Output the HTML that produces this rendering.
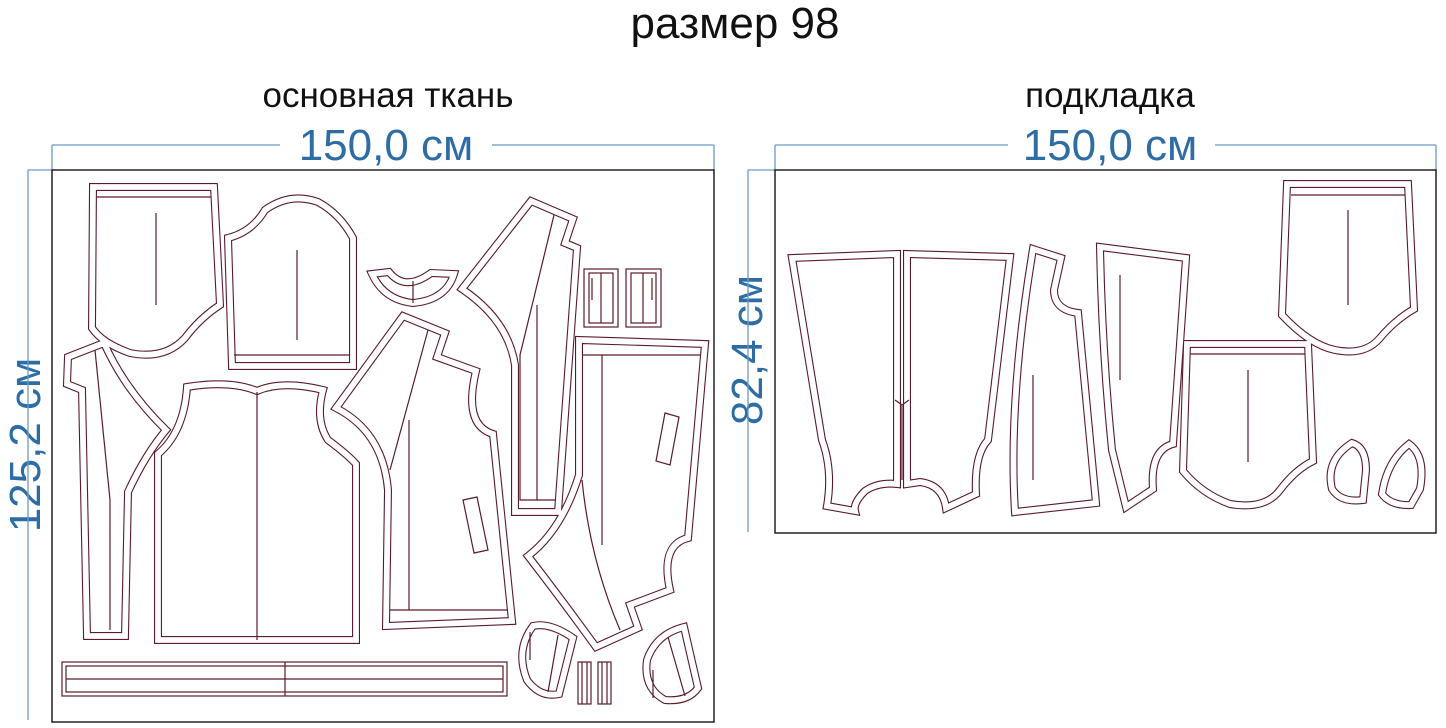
<!DOCTYPE html>
<html><head><meta charset="utf-8"><style>
html,body{margin:0;padding:0;background:#fff;}
svg{display:block;}
</style></head><body>
<svg width="1446" height="728" viewBox="0 0 1446 728" xmlns="http://www.w3.org/2000/svg" xmlns:xlink="http://www.w3.org/1999/xlink">
<defs>
<path id="p1" d="M93,187 L214,187 L220,305 Q200,318 185,338 Q165,360 130,353 Q102,343 92,328 Z"/>
<path id="p2" d="M228,238 Q252,232 265,210 Q290,192 318,202 Q340,214 353,238 L353,366 L232,366 Z"/>
<path id="p3" d="M372,274 L389,272 Q405,292 431,273 L454,274 Q446,300 413,303 Q384,300 372,274 Z"/>
<path id="p4" d="M68,357 L104,343 Q125,390 166,430 Q145,455 128,492 L125,636 L87,636 L82,390 L67,384 Z"/>
<path id="p5" d="M187,387 Q230,380 257,391 Q282,380 323,390 Q315,420 328,440 Q348,455 356,464 L356,640 L158,640 L158,454 Q184,432 187,387 Z"/>
<path id="p6" d="M336,408 L403,316 L445,333 L437,357 L476,371 Q463,425 493,434 L512,621 L386,626 L388,490 Q383,432 336,408 Z"/>
<path id="p7" d="M531,201 L573,219 L565,243 L577,248 L558,512 L515,512 L515,365 Q508,320 462,289 Z"/>
<path id="p9" d="M579,340 L705,344 L688,538 Q660,545 670,590 L630,605 L638,628 L596,647 Q562,600 528,556 Q562,530 579,475 Z"/>
<path id="p10" d="M533,626 Q550,622 573,638 L559,694 Q540,698 527,680 Q515,650 533,626 Z"/>
<path id="p11" d="M684,627 L698,688 Q688,702 665,700 Q643,688 647,660 Q656,634 684,627 Z"/>
<path id="r1" d="M792,258 L897,254 L897,484 Q878,482 865,491 Q853,503 855,511 L827,506 Q833,470 822,440 Z"/>
<path id="r2" d="M907,254 L1010,257 L988,440 Q974,455 976,494 L946,508 Q943,485 920,482 L907,484 Z"/>
<path id="r3" d="M1033,249 L1061,258 L1054,290 Q1054,310 1078,313 L1096,503 L1015,512 Q1008,400 1033,249 Z"/>
<path id="r4" d="M1100,247 L1186,258 L1173,444 Q1150,450 1153,489 L1126,507 L1112,450 Q1102,350 1100,247 Z"/>
<path id="r5" d="M1287,184 L1408,184 L1414,309 Q1395,320 1380,338 Q1365,356 1335,350 Q1310,345 1282,315 Z"/>
<path id="r6" d="M1187,344 L1308,344 L1313,461 Q1295,470 1280,490 Q1265,510 1230,504 Q1202,494 1183,471 Z"/>
<path id="r7" d="M1352,443 Q1366,447 1366,470 L1363,500 Q1341,503 1332,489 Q1325,460 1352,443 Z"/>
<path id="r8" d="M1409,444 Q1426,456 1420,489 L1411,505 Q1391,506 1382,494 Q1387,461 1409,444 Z"/>
</defs>

<g font-family="Liberation Sans, sans-serif">
<text x="735" y="38" font-size="44" text-anchor="middle" fill="#111">размер 98</text>
<text x="388" y="107" font-size="35" text-anchor="middle" fill="#111">основная ткань</text>
<text x="1110" y="107" font-size="35" text-anchor="middle" fill="#111">подкладка</text>
<text x="386" y="160" font-size="44" text-anchor="middle" fill="#2e6da4">150,0 см</text>
<text x="1110" y="160" font-size="44" text-anchor="middle" fill="#2e6da4">150,0 см</text>
<text transform="translate(40,445) rotate(-90)" font-size="44" text-anchor="middle" fill="#2e6da4">125,2 см</text>
<text transform="translate(762,350) rotate(-90)" font-size="44" text-anchor="middle" fill="#2e6da4">82,4 см</text>
</g>

<g stroke="#6a9ac8" stroke-width="1.3" fill="none">
<path d="M52,145 H280 M492,145 H714 M52,145 V170 M714,145 V170"/>
<path d="M28,170 H52 M28,170 V720"/>
<path d="M775,145 H1008 M1215,145 H1436 M775,145 V170 M1436,145 V170"/>
<path d="M748,170 H775 M748,170 V532"/>
</g>

<rect x="52" y="170" width="662" height="552" fill="#fff" stroke="#222" stroke-width="1.5"/>
<rect x="775" y="170" width="661" height="363" fill="#fff" stroke="#222" stroke-width="1.5"/>

<g fill="#fff" stroke="#5a1a2a" stroke-width="8" stroke-linejoin="miter">
<use href="#p1" xlink:href="#p1"/><use href="#p2" xlink:href="#p2"/><use href="#p3" xlink:href="#p3"/>
<use href="#p4" xlink:href="#p4"/><use href="#p5" xlink:href="#p5"/><use href="#p6" xlink:href="#p6"/>
<use href="#p7" xlink:href="#p7"/><use href="#p9" xlink:href="#p9"/><use href="#p10" xlink:href="#p10"/>
<use href="#p11" xlink:href="#p11"/>
<use href="#r1" xlink:href="#r1"/><use href="#r2" xlink:href="#r2"/><use href="#r3" xlink:href="#r3"/>
<use href="#r4" xlink:href="#r4"/><use href="#r6" xlink:href="#r6"/><use href="#r5" xlink:href="#r5"/>
<use href="#r7" xlink:href="#r7"/><use href="#r8" xlink:href="#r8"/>
</g>
<g fill="none" stroke="#fff" stroke-width="5.8" stroke-linejoin="miter">
<use href="#p1" xlink:href="#p1"/><use href="#p2" xlink:href="#p2"/><use href="#p3" xlink:href="#p3"/>
<use href="#p4" xlink:href="#p4"/><use href="#p5" xlink:href="#p5"/><use href="#p6" xlink:href="#p6"/>
<use href="#p7" xlink:href="#p7"/><use href="#p9" xlink:href="#p9"/><use href="#p10" xlink:href="#p10"/>
<use href="#p11" xlink:href="#p11"/>
<use href="#r1" xlink:href="#r1"/><use href="#r2" xlink:href="#r2"/><use href="#r3" xlink:href="#r3"/>
<use href="#r4" xlink:href="#r4"/><use href="#r6" xlink:href="#r6"/><use href="#r5" xlink:href="#r5"/>
<use href="#r7" xlink:href="#r7"/><use href="#r8" xlink:href="#r8"/>
</g>

<g stroke="#5a1a2a" stroke-width="1.2" fill="none">
<path d="M97,197 H211 M156,213 V305"/>
<path d="M234,355 H350 M297,250 V340"/>
<path d="M413,281 V303"/>
<path d="M95,350 L110,500 L110,630"/>
<path d="M257,392 V640"/>
<path d="M428,330 L390,470 M409,420 V610 M390,610 H508"/>
<path d="M463,500 L477,497 L488,550 L474,553 Z"/>
<path d="M554,215 L520,355 L520,500 H556 M537,305 V500"/>
<rect x="584" y="269" width="34" height="58" fill="#fff"/>
<rect x="589" y="273" width="24" height="50"/>
<path d="M601,273 V323 M592,278 V300"/>
<rect x="626" y="269" width="35" height="58" fill="#fff"/>
<rect x="631" y="273" width="25" height="50"/>
<path d="M643,273 V323 M652,278 V300"/>
<path d="M582,355 H700 M602,355 V545 M582,480 Q590,560 620,630"/>
<path d="M665,413 L679,417 L670,465 L656,461 Z"/>
<rect x="62" y="662" width="445" height="34" fill="#fff"/>
<rect x="66" y="666" width="437" height="26"/>
<path d="M66,679 H503 M285,662 V696"/>
<path d="M558,635 L548,692 M530,632 V660"/>
<path d="M668,637 L685,696 M653,670 V698"/>
<rect x="578" y="662" width="13" height="42" fill="#fff"/>
<path d="M582,662 V704 M587,662 V704"/>
<rect x="598" y="662" width="13" height="42" fill="#fff"/>
<path d="M602,662 V704 M607,662 V704"/>
<path d="M895,400 L902,405 L909,400 M902,405 V480"/>
<path d="M1033,375 V480"/>
<path d="M1120,275 V380"/>
<path d="M1291,195 H1405 M1348,210 V305"/>
<path d="M1190,354 H1305 M1248,370 V462"/>
</g>
</svg>
</body></html>
